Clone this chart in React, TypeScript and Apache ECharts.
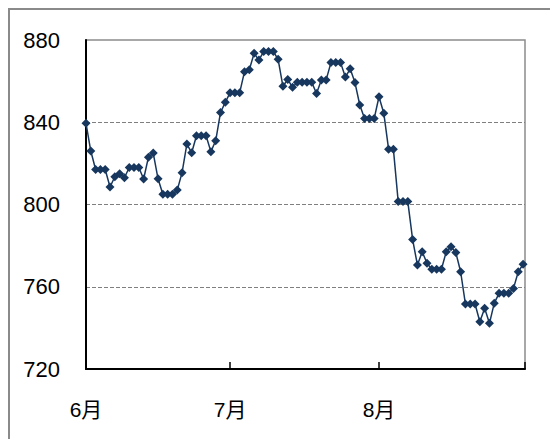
import React, { useEffect, useRef } from "react";
import * as echarts from "echarts";

// Daily values (calendar days, 6/1 .. 8/31; weekends/holidays carry the previous close)
const values: number[] = [
  839.5, 826, 817, 817, 817, 808.5, 813.5, 815, 813, 818,
  818, 818, 812.4, 823, 825, 812.5, 805, 805, 805, 807,
  815.5, 829.4, 825.2, 833.4, 833.4, 833.4, 825.7, 831, 844.7, 849.7,
  854.4, 854.4, 854.4, 864.6, 865.5, 873.5, 870.3, 874.4, 874.4, 874.4,
  870.6, 857.5, 860.8, 857, 859.4, 859.4, 859.4, 859.4, 854, 860.6,
  860.6, 869, 869, 869, 862, 866, 859.3, 848.4, 841.8, 841.8,
  841.8, 852.4, 844.4, 826.9, 826.9, 801.4, 801.4, 801.4, 783, 770.6,
  777, 771.4, 768.5, 768.5, 768.5, 777, 779.5, 776.6, 767.3, 751.6,
  751.6, 751.6, 743, 749.5, 742.2, 752, 756.8, 756.8, 756.8, 759.2,
  767.3, 770.9,
];

// Day offsets from 6/1 where each month starts, with their labels
const monthTicks: number[] = [0, 30, 61];
const monthLabels: string[] = ["6月", "7月", "8月"];
const axisEndDay = 91.4;

const yMin = 720;
const yMax = 880;
const yStep = 40;

export default function App() {
  const ref = useRef<HTMLDivElement>(null);

  useEffect(() => {
    if (!ref.current) return;
    const chart = echarts.init(ref.current, undefined, { renderer: "svg" });
    const data = values.map((v, i) => [i, v]);
    const labelFont = "'Liberation Sans', 'Noto Sans CJK JP', sans-serif";

    chart.setOption({
      animation: false,
      backgroundColor: "#ffffff",
      grid: {
        left: 86,
        right: 25,
        top: 40,
        bottom: 70,
        show: true,
        borderColor: "#8c8c8c",
        borderWidth: 1.5,
        backgroundColor: "transparent",
      },
      graphic: [
        {
          type: "rect",
          shape: { x: 9, y: 9, width: 700, height: 700 },
          style: { fill: "none", stroke: "#8a8a8a", lineWidth: 2 },
          silent: true,
          z: -10,
        },
      ],
      xAxis: {
        type: "value",
        min: 0,
        max: axisEndDay,
        axisLine: { show: true, lineStyle: { color: "#000000", width: 2 } },
        axisTick: {
          show: true,
          inside: true,
          length: 7,
          customValues: [...monthTicks, axisEndDay],
          lineStyle: { color: "#000000", width: 1.5 },
        },
        axisLabel: {
          customValues: monthTicks,
          formatter: (v: number) => {
            const idx = monthTicks.indexOf(Math.round(v));
            return idx >= 0 ? monthLabels[idx] : "";
          },
          fontSize: 21,
          color: "#000000",
          fontFamily: labelFont,
          margin: 30,
        },
        splitLine: { show: false },
      },
      yAxis: {
        type: "value",
        min: yMin,
        max: yMax,
        interval: yStep,
        axisLine: { show: true, lineStyle: { color: "#000000", width: 2 } },
        axisTick: { show: false },
        axisLabel: {
          fontSize: 22,
          color: "#000000",
          fontFamily: labelFont,
          margin: 26,
        },
        splitLine: {
          show: true,
          lineStyle: {
            color: ["#7f7f7f", "#7f7f7f", "#7f7f7f", "#7f7f7f", "rgba(0,0,0,0)"],
            width: 1,
            type: [4, 2],
          },
        },
      },
      series: [
        {
          type: "line",
          data,
          symbol: "diamond",
          symbolSize: 9,
          showSymbol: true,
          lineStyle: { color: "#17375E", width: 1.5 },
          itemStyle: { color: "#17375E" },
          z: 5,
        },
      ],
    });

    return () => {
      chart.dispose();
    };
  }, []);

  return (
    <div
      ref={ref}
      style={{ position: "absolute", left: 0, top: 0, width: 550, height: 439 }}
    />
  );
}
